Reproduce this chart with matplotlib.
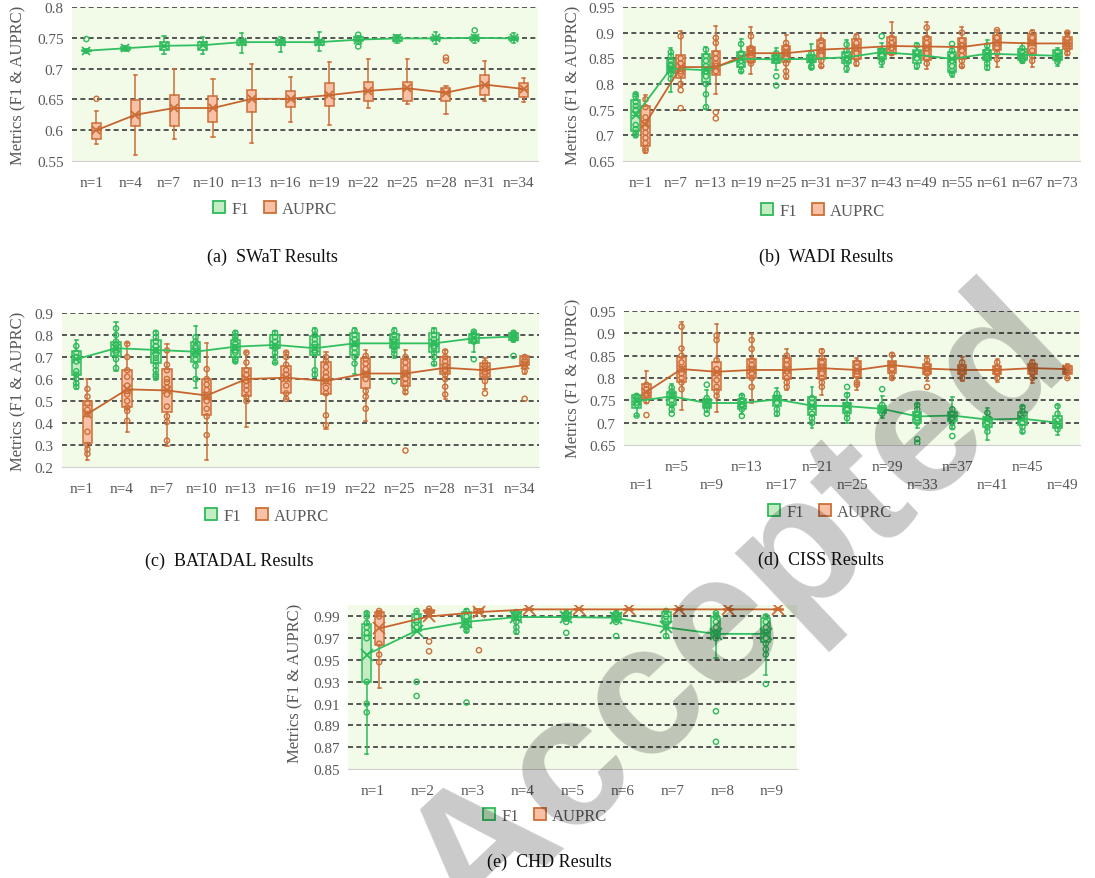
import matplotlib
matplotlib.use('Agg')
import matplotlib.pyplot as plt
from matplotlib.patches import Patch

# ---------------- data ----------------
# box stats: (whisker_low, q1, median, q3, whisker_high)
swat_labels = ['n=1', 'n=4', 'n=7', 'n=10', 'n=13', 'n=16', 'n=19', 'n=22', 'n=25', 'n=28', 'n=31', 'n=34']
swat_f1_box = [(0.726, 0.728, 0.729, 0.731, 0.732), (0.728, 0.731, 0.733, 0.735, 0.737), (0.724, 0.730, 0.737, 0.743, 0.753),
               (0.724, 0.731, 0.738, 0.743, 0.752), (0.725, 0.738, 0.743, 0.747, 0.758), (0.727, 0.739, 0.743, 0.746, 0.752),
               (0.729, 0.738, 0.743, 0.747, 0.759), (0.740, 0.744, 0.747, 0.751, 0.753), (0.742, 0.745, 0.749, 0.752, 0.755),
               (0.740, 0.746, 0.749, 0.752, 0.759), (0.742, 0.747, 0.750, 0.752, 0.755), (0.741, 0.746, 0.749, 0.751, 0.757)]
swat_f1_mean = [0.729, 0.733, 0.737, 0.738, 0.743, 0.743, 0.743, 0.747, 0.749, 0.749, 0.750, 0.749]
swat_f1_pts = [[0.748], [], [], [], [], [], [], [0.755, 0.736], [], [], [0.762], []]
swat_au_box = [(0.578, 0.586, 0.600, 0.611, 0.631), (0.559, 0.607, 0.625, 0.649, 0.689), (0.586, 0.607, 0.636, 0.657, 0.700),
               (0.589, 0.613, 0.636, 0.656, 0.683), (0.579, 0.630, 0.651, 0.666, 0.707), (0.613, 0.637, 0.651, 0.663, 0.686),
               (0.608, 0.639, 0.657, 0.677, 0.711), (0.636, 0.647, 0.664, 0.678, 0.715), (0.642, 0.648, 0.668, 0.678, 0.715),
               (0.627, 0.647, 0.661, 0.668, 0.672), (0.647, 0.657, 0.674, 0.690, 0.713), (0.646, 0.654, 0.667, 0.677, 0.684)]
swat_au_mean = [0.600, 0.625, 0.636, 0.636, 0.651, 0.651, 0.657, 0.664, 0.668, 0.661, 0.674, 0.667]
swat_au_pts = [[0.651], [], [], [], [], [], [], [], [], [0.718, 0.713], [], []]
swat_yticks = [0.55, 0.6, 0.65, 0.7, 0.75, 0.8]
swat_yticklabels = ['0.55', '0.6', '0.65', '0.7', '0.75', '0.8']

wadi_labels = ['n=1', 'n=7', 'n=13', 'n=19', 'n=25', 'n=31', 'n=37', 'n=43', 'n=49', 'n=55', 'n=61', 'n=67', 'n=73']
wadi_f1_box = [(0.697, 0.708, 0.740, 0.768, 0.783), (0.784, 0.822, 0.832, 0.848, 0.871), (0.752, 0.804, 0.828, 0.859, 0.872),
               (0.823, 0.833, 0.848, 0.862, 0.888), (0.828, 0.840, 0.848, 0.857, 0.870), (0.830, 0.842, 0.849, 0.856, 0.877),
               (0.823, 0.840, 0.852, 0.862, 0.885), (0.833, 0.849, 0.860, 0.869, 0.879), (0.830, 0.841, 0.857, 0.866, 0.879),
               (0.814, 0.823, 0.849, 0.862, 0.875), (0.827, 0.846, 0.858, 0.866, 0.885), (0.840, 0.846, 0.857, 0.869, 0.879),
               (0.836, 0.846, 0.855, 0.866, 0.870)]
wadi_f1_mean = [0.739, 0.830, 0.827, 0.849, 0.848, 0.849, 0.852, 0.862, 0.857, 0.849, 0.859, 0.857, 0.855]
wadi_f1_pts = [[0.780, 0.775, 0.765, 0.757, 0.750, 0.720, 0.712, 0.705, 0.700],
               [0.862, 0.855, 0.845, 0.838, 0.835, 0.830, 0.820, 0.810],
               [0.867, 0.855, 0.845, 0.835, 0.825, 0.815, 0.800, 0.780, 0.755],
               [0.878, 0.860, 0.845, 0.835, 0.825],
               [0.860, 0.850, 0.845, 0.815, 0.797],
               [0.860, 0.850, 0.845, 0.835, 0.832],
               [0.877, 0.865, 0.850, 0.840, 0.830],
               [0.893, 0.865, 0.855, 0.848, 0.842],
               [0.875, 0.860, 0.850, 0.835],
               [0.878, 0.865, 0.855, 0.845, 0.835, 0.825, 0.820],
               [0.875, 0.865, 0.855, 0.848, 0.840, 0.832],
               [0.870, 0.862, 0.855, 0.848, 0.845],
               [0.862, 0.855, 0.848, 0.843]]
wadi_au_box = [(0.666, 0.679, 0.720, 0.757, 0.778), (0.794, 0.812, 0.832, 0.856, 0.903), (0.781, 0.818, 0.835, 0.864, 0.913),
               (0.820, 0.843, 0.860, 0.872, 0.911), (0.810, 0.842, 0.860, 0.874, 0.895), (0.833, 0.849, 0.868, 0.885, 0.900),
               (0.836, 0.849, 0.872, 0.887, 0.898), (0.856, 0.859, 0.874, 0.892, 0.921), (0.830, 0.847, 0.875, 0.892, 0.921),
               (0.833, 0.849, 0.870, 0.890, 0.911), (0.833, 0.866, 0.882, 0.895, 0.906), (0.833, 0.859, 0.879, 0.898, 0.906),
               (0.856, 0.869, 0.879, 0.892, 0.901)]
wadi_au_mean = [0.723, 0.833, 0.833, 0.860, 0.860, 0.867, 0.870, 0.874, 0.873, 0.872, 0.881, 0.879, 0.879]
wadi_au_pts = [[0.770, 0.755, 0.735, 0.725, 0.715, 0.705, 0.695, 0.685, 0.675, 0.670],
               [0.893, 0.850, 0.840, 0.830, 0.825, 0.820, 0.800, 0.788, 0.753],
               [0.890, 0.880, 0.860, 0.850, 0.840, 0.835, 0.825, 0.745, 0.733],
               [0.893, 0.870, 0.865, 0.860, 0.855, 0.845, 0.840],
               [0.880, 0.872, 0.860, 0.850, 0.840, 0.825, 0.815],
               [0.885, 0.875, 0.865, 0.855, 0.845, 0.835],
               [0.892, 0.880, 0.870, 0.860, 0.850, 0.840],
               [0.890, 0.880, 0.870, 0.860],
               [0.910, 0.890, 0.880, 0.870, 0.860, 0.850, 0.840],
               [0.900, 0.885, 0.875, 0.865, 0.855, 0.845, 0.835],
               [0.905, 0.890, 0.880, 0.870, 0.860, 0.848],
               [0.900, 0.890, 0.880, 0.865, 0.855, 0.845],
               [0.900, 0.890, 0.880, 0.875, 0.868, 0.860]]
wadi_yticks = [0.65, 0.7, 0.75, 0.8, 0.85, 0.9, 0.95]
wadi_yticklabels = ['0.65', '0.7', '0.75', '0.8', '0.85', '0.9', '0.95']

batadal_labels = swat_labels
batadal_f1_box = [(0.553, 0.617, 0.690, 0.727, 0.778), (0.635, 0.706, 0.740, 0.770, 0.859), (0.594, 0.671, 0.730, 0.778, 0.816),
                  (0.559, 0.678, 0.720, 0.770, 0.839), (0.671, 0.701, 0.745, 0.778, 0.816), (0.671, 0.739, 0.755, 0.800, 0.816),
                  (0.608, 0.709, 0.745, 0.797, 0.831), (0.625, 0.709, 0.760, 0.808, 0.831), (0.694, 0.739, 0.765, 0.804, 0.831),
                  (0.663, 0.724, 0.760, 0.808, 0.831), (0.724, 0.762, 0.785, 0.804, 0.816), (0.770, 0.778, 0.792, 0.811, 0.820)]
batadal_f1_mean = [0.690, 0.740, 0.732, 0.724, 0.747, 0.755, 0.740, 0.762, 0.762, 0.762, 0.785, 0.793]
batadal_f1_pts = [[0.750, 0.720, 0.700, 0.680, 0.635, 0.620, 0.600, 0.580, 0.565],
                  [0.830, 0.800, 0.770, 0.755, 0.740, 0.730, 0.720, 0.690, 0.650],
                  [0.810, 0.790, 0.770, 0.750, 0.730, 0.710, 0.695, 0.680, 0.660, 0.640, 0.620, 0.610],
                  [0.790, 0.770, 0.750, 0.740, 0.720, 0.710, 0.690, 0.660, 0.600],
                  [0.810, 0.795, 0.780, 0.760, 0.745, 0.730, 0.720, 0.690, 0.680],
                  [0.810, 0.790, 0.770, 0.750, 0.740, 0.720, 0.700, 0.675],
                  [0.820, 0.800, 0.780, 0.760, 0.745, 0.730, 0.720, 0.640, 0.620],
                  [0.820, 0.800, 0.780, 0.760, 0.740, 0.720, 0.700, 0.670],
                  [0.820, 0.800, 0.780, 0.770, 0.760, 0.745, 0.730, 0.715, 0.590],
                  [0.820, 0.800, 0.780, 0.765, 0.750, 0.740, 0.720, 0.700, 0.670],
                  [0.815, 0.800, 0.790, 0.780, 0.770, 0.690],
                  [0.810, 0.800, 0.790, 0.785, 0.780, 0.705]]
batadal_au_box = [(0.230, 0.311, 0.480, 0.500, 0.602), (0.357, 0.472, 0.550, 0.640, 0.765), (0.296, 0.449, 0.550, 0.645, 0.758),
                  (0.232, 0.437, 0.520, 0.602, 0.762), (0.380, 0.525, 0.600, 0.651, 0.724), (0.507, 0.538, 0.610, 0.658, 0.724),
                  (0.373, 0.530, 0.600, 0.678, 0.724), (0.411, 0.559, 0.630, 0.694, 0.732), (0.533, 0.568, 0.625, 0.690, 0.732),
                  (0.510, 0.625, 0.650, 0.701, 0.732), (0.556, 0.609, 0.640, 0.675, 0.697), (0.625, 0.663, 0.670, 0.704, 0.706)]
batadal_au_mean = [0.441, 0.553, 0.548, 0.525, 0.600, 0.606, 0.591, 0.625, 0.625, 0.651, 0.640, 0.663]
batadal_au_pts = [[0.555, 0.520, 0.490, 0.460, 0.440, 0.360, 0.300, 0.280, 0.260],
                  [0.760, 0.700, 0.640, 0.610, 0.570, 0.545, 0.530, 0.500, 0.470, 0.455, 0.410],
                  [0.730, 0.665, 0.640, 0.600, 0.585, 0.560, 0.530, 0.475, 0.430, 0.405, 0.320],
                  [0.645, 0.600, 0.575, 0.550, 0.520, 0.500, 0.465, 0.430, 0.345],
                  [0.720, 0.675, 0.640, 0.620, 0.590, 0.570, 0.550, 0.520, 0.500],
                  [0.720, 0.700, 0.665, 0.640, 0.620, 0.600, 0.570, 0.535, 0.510],
                  [0.700, 0.680, 0.655, 0.630, 0.610, 0.590, 0.560, 0.535, 0.435, 0.390],
                  [0.705, 0.690, 0.670, 0.645, 0.620, 0.600, 0.545, 0.520, 0.465],
                  [0.700, 0.675, 0.650, 0.625, 0.600, 0.580, 0.560, 0.540, 0.275],
                  [0.725, 0.700, 0.680, 0.660, 0.640, 0.620, 0.600, 0.565, 0.530],
                  [0.675, 0.660, 0.645, 0.630, 0.610, 0.590, 0.535],
                  [0.700, 0.685, 0.670, 0.655, 0.635, 0.510]]
batadal_yticks = [0.2, 0.3, 0.4, 0.5, 0.6, 0.7, 0.8, 0.9]
batadal_yticklabels = ['0.2', '0.3', '0.4', '0.5', '0.6', '0.7', '0.8', '0.9']

ciss_labels = ['n=1', 'n=5', 'n=9', 'n=13', 'n=17', 'n=21', 'n=25', 'n=29', 'n=33', 'n=37', 'n=41', 'n=45', 'n=49']
ciss_f1_box = [(0.716, 0.733, 0.748, 0.761, 0.765), (0.725, 0.740, 0.758, 0.769, 0.786), (0.725, 0.733, 0.744, 0.752, 0.773),
               (0.720, 0.731, 0.744, 0.752, 0.763), (0.714, 0.737, 0.750, 0.759, 0.778), (0.688, 0.718, 0.738, 0.758, 0.780),
               (0.699, 0.722, 0.737, 0.744, 0.767), (0.710, 0.722, 0.731, 0.737, 0.759), (0.688, 0.699, 0.714, 0.725, 0.742),
               (0.686, 0.703, 0.716, 0.725, 0.757), (0.661, 0.691, 0.707, 0.710, 0.733), (0.676, 0.695, 0.709, 0.725, 0.737),
               (0.673, 0.688, 0.700, 0.714, 0.740)]
ciss_f1_mean = [0.748, 0.759, 0.744, 0.744, 0.752, 0.738, 0.737, 0.731, 0.714, 0.716, 0.707, 0.709, 0.700]
ciss_f1_pts = [[0.760, 0.752, 0.745, 0.740, 0.716],
               [0.778, 0.770, 0.760, 0.750, 0.740, 0.730, 0.720],
               [0.785, 0.755, 0.745, 0.740, 0.730, 0.720],
               [0.760, 0.750, 0.740, 0.730, 0.715],
               [0.765, 0.755, 0.745, 0.730, 0.720],
               [0.755, 0.745, 0.735, 0.720, 0.710, 0.700],
               [0.780, 0.762, 0.740, 0.730, 0.720, 0.710],
               [0.775, 0.740, 0.730, 0.720],
               [0.740, 0.730, 0.720, 0.710, 0.700, 0.663, 0.655],
               [0.730, 0.720, 0.710, 0.700, 0.690, 0.670],
               [0.722, 0.710, 0.700, 0.690, 0.680],
               [0.735, 0.725, 0.710, 0.700, 0.690, 0.680],
               [0.737, 0.720, 0.705, 0.695, 0.685]]
ciss_au_box = [(0.745, 0.756, 0.768, 0.786, 0.816), (0.729, 0.790, 0.815, 0.846, 0.925), (0.725, 0.773, 0.812, 0.835, 0.921),
               (0.744, 0.800, 0.820, 0.842, 0.899), (0.774, 0.797, 0.818, 0.844, 0.865), (0.763, 0.797, 0.822, 0.842, 0.865),
               (0.773, 0.802, 0.818, 0.838, 0.844), (0.797, 0.812, 0.829, 0.838, 0.857), (0.793, 0.808, 0.821, 0.831, 0.850),
               (0.793, 0.808, 0.818, 0.829, 0.846), (0.790, 0.808, 0.818, 0.827, 0.842), (0.788, 0.808, 0.822, 0.831, 0.840),
               (0.801, 0.810, 0.820, 0.827, 0.831)]
ciss_au_mean = [0.769, 0.820, 0.814, 0.818, 0.818, 0.822, 0.818, 0.829, 0.821, 0.818, 0.818, 0.822, 0.820]
ciss_au_pts = [[0.785, 0.775, 0.765, 0.760, 0.748, 0.717],
               [0.915, 0.866, 0.850, 0.835, 0.820, 0.810, 0.800, 0.790, 0.775],
               [0.895, 0.885, 0.840, 0.820, 0.810, 0.795, 0.780, 0.770, 0.760],
               [0.885, 0.865, 0.840, 0.830, 0.820, 0.810, 0.800, 0.780],
               [0.850, 0.840, 0.830, 0.815, 0.800, 0.790, 0.780],
               [0.860, 0.845, 0.835, 0.825, 0.810, 0.800, 0.790, 0.780],
               [0.835, 0.825, 0.815, 0.805, 0.790, 0.785],
               [0.852, 0.830, 0.820, 0.810, 0.800],
               [0.840, 0.830, 0.820, 0.810, 0.780],
               [0.835, 0.820, 0.810, 0.800],
               [0.835, 0.825, 0.815, 0.810, 0.800],
               [0.835, 0.828, 0.820, 0.810, 0.800],
               [0.825, 0.818, 0.812, 0.800]]
ciss_yticks = wadi_yticks
ciss_yticklabels = wadi_yticklabels

chd_labels = ['n=1', 'n=2', 'n=3', 'n=4', 'n=5', 'n=6', 'n=7', 'n=8', 'n=9']
chd_f1_box = [(0.864, 0.930, 0.973, 0.9835, 0.994), (0.976, 0.977, 0.985, 0.992, 0.995), (0.9755, 0.980, 0.986, 0.994, 0.9965),
              (0.974, 0.9863, 0.990, 0.994, 0.9956), (0.986, 0.9872, 0.990, 0.9934, 0.995), (0.985, 0.9863, 0.990, 0.9934, 0.995),
              (0.970, 0.9847, 0.990, 0.994, 0.9946), (0.952, 0.9723, 0.977, 0.9894, 0.9934), (0.936, 0.9662, 0.976, 0.9885, 0.9915)]
chd_f1_mean = [0.955, 0.977, 0.985, 0.9894, 0.9894, 0.9888, 0.980, 0.974, 0.974]
chd_f1_pts = [[0.993, 0.990, 0.984, 0.980, 0.975, 0.970, 0.930, 0.910, 0.902],
              [0.995, 0.990, 0.985, 0.980, 0.930, 0.917],
              [0.995, 0.990, 0.985, 0.980, 0.977, 0.911],
              [0.994, 0.990, 0.985, 0.980, 0.976],
              [0.993, 0.990, 0.985, 0.975],
              [0.993, 0.990, 0.985, 0.972],
              [0.995, 0.990, 0.985, 0.980, 0.972],
              [0.993, 0.990, 0.985, 0.980, 0.975, 0.970, 0.903, 0.875],
              [0.990, 0.985, 0.980, 0.975, 0.970, 0.965, 0.960, 0.955, 0.928]]
chd_au_box = [(0.924, 0.964, 0.990, 0.9937, 0.995), (0.992, 0.993, 0.995, 0.996, 0.997), (0.993, 0.9934, 0.995, 0.9965, 0.997),
              (0.9955, 0.996, 0.9965, 0.997, 0.9975), (0.9955, 0.996, 0.9965, 0.997, 0.9975), (0.9955, 0.996, 0.9965, 0.997, 0.9975),
              (0.9955, 0.996, 0.9965, 0.997, 0.9975), (0.9955, 0.996, 0.9965, 0.997, 0.9975), (0.9955, 0.996, 0.9965, 0.997, 0.9975)]
chd_au_mean = [0.979, 0.990, 0.994, 0.9965, 0.9965, 0.9965, 0.9965, 0.9965, 0.9965]
chd_au_pts = [[0.995, 0.993, 0.990, 0.965, 0.955, 0.948], [0.997, 0.995, 0.993, 0.967, 0.958], [0.959], [], [], [], [], [], []]
chd_yticks = [0.85, 0.87, 0.89, 0.91, 0.93, 0.95, 0.97, 0.99]
chd_yticklabels = ['0.85', '0.87', '0.89', '0.91', '0.93', '0.95', '0.97', '0.99']

series_names = ['F1', 'AUPRC']
captions = ['(a)  SWaT Results', '(b)  WADI Results', '(c)  BATADAL Results', '(d)  CISS Results', '(e)  CHD Results']
ylabel_text = 'Metrics (F1 & AUPRC)'
watermark_text = 'Accepted'

# ---------------- style ----------------
W, H = 1095, 879
plt.rcParams['font.family'] = ['Liberation Serif', 'DejaVu Serif']
BG = '#f2fae8'
TXT = '#595959'
F1_EDGE, F1_FACE, F1_LINE = '#2dba5a', '#c4edc4', '#30c060'
AU_EDGE, AU_FACE, AU_LINE = '#cc6e38', '#f8c1a6', '#c8642e'

fig = plt.figure(figsize=(W / 100, H / 100), dpi=100)


def px_rect(x0, y0, x1, y1):
    return [x0 / W, 1 - y1 / H, (x1 - x0) / W, (y1 - y0) / H]


def draw_series(ax, boxes, means, pts, offset, width, edge, face, line, msize):
    pos = [i + offset for i in range(len(boxes))]
    stats = [dict(whislo=b[0], q1=b[1], med=b[2], q3=b[3], whishi=b[4], mean=m, fliers=[])
             for b, m in zip(boxes, means)]
    ax.bxp(stats, positions=pos, widths=width, patch_artist=True, showmeans=False,
           showfliers=False, capwidths=width * 0.35,
           boxprops=dict(facecolor=face, edgecolor=edge, linewidth=1.1),
           whiskerprops=dict(color=edge, linewidth=1.1),
           capprops=dict(color=edge, linewidth=1.1),
           medianprops=dict(color=edge, linewidth=1.0), manage_ticks=False, zorder=3)
    xs, ys = [], []
    for p, vals in zip(pos, pts):
        xs += [p] * len(vals)
        ys += list(vals)
    if xs:
        ax.scatter(xs, ys, s=14, facecolors='none', edgecolors=edge, linewidths=1.0, zorder=4)
    ax.plot(pos, means, color=line, lw=1.3, zorder=5)
    ax.plot(pos, means, ls='none', marker='x', ms=msize, mew=1.3, color=edge, zorder=6)


def panel(rect, labels, f1, au, yticks, yticklabels, ylim, width=0.24, off=0.14, msize=6, stagger=False):
    ax = fig.add_axes(px_rect(*rect))
    ax.set_facecolor(BG)
    for s in ['left', 'right', 'top']:
        ax.spines[s].set_visible(False)
    ax.spines['bottom'].set_color('#d0d0d0')
    for t in yticks[1:]:
        ax.axhline(t, color='#3a3a3a', lw=1.2, ls=(0, (3, 2)), zorder=1)
    draw_series(ax, *f1, -off, width, F1_EDGE, F1_FACE, F1_LINE, msize)
    draw_series(ax, *au, off, width, AU_EDGE, AU_FACE, AU_LINE, msize)
    ax.set_xlim(-0.5, len(labels) - 0.5)
    ax.set_ylim(*ylim)
    ax.set_yticks(yticks)
    ax.set_yticklabels(yticklabels)
    ax.set_xticks(range(len(labels)))
    if stagger:
        ax.set_xticklabels([('\n' + l) if i % 2 == 0 else l for i, l in enumerate(labels)], linespacing=1.5)
    else:
        ax.set_xticklabels(labels)
    ax.tick_params(axis='both', length=0, labelsize=11, labelcolor=TXT)
    ax.tick_params(axis='x', pad=11)
    ax.tick_params(axis='y', pad=6)
    return ax


def legend(cx, cy):
    handles = [Patch(facecolor=F1_FACE, edgecolor=F1_EDGE, linewidth=1.3, label=series_names[0]),
               Patch(facecolor=AU_FACE, edgecolor=AU_EDGE, linewidth=1.3, label=series_names[1])]
    fig.legend(handles=handles, loc='center', bbox_to_anchor=(cx / W, 1 - cy / H), ncol=2, frameon=False,
               handlelength=0.75, handleheight=0.75, handletextpad=0.35, columnspacing=0.9,
               fontsize=12, labelcolor=TXT)


def ylabel(x, y):
    fig.text(x / W, 1 - y / H, ylabel_text, rotation=90, ha='center', va='center', fontsize=12, color=TXT)


def caption(x, y, s):
    fig.text(x / W, 1 - y / H, s, ha='center', va='center', fontsize=13, color='#111111')


panel((72, 8, 538, 162), swat_labels, (swat_f1_box, swat_f1_mean, swat_f1_pts),
      (swat_au_box, swat_au_mean, swat_au_pts), swat_yticks, swat_yticklabels, (0.55, 0.8), off=0.13, width=0.23)
panel((623, 8, 1080, 162), wadi_labels, (wadi_f1_box, wadi_f1_mean, wadi_f1_pts),
      (wadi_au_box, wadi_au_mean, wadi_au_pts), wadi_yticks, wadi_yticklabels, (0.65, 0.95))
panel((62, 314, 539, 468), batadal_labels, (batadal_f1_box, batadal_f1_mean, batadal_f1_pts),
      (batadal_au_box, batadal_au_mean, batadal_au_pts), batadal_yticks, batadal_yticklabels, (0.2, 0.9))
panel((624, 312, 1080, 446), ciss_labels, (ciss_f1_box, ciss_f1_mean, ciss_f1_pts),
      (ciss_au_box, ciss_au_mean, ciss_au_pts), ciss_yticks, ciss_yticklabels, (0.65, 0.95), stagger=True)
panel((348, 606, 797, 770), chd_labels, (chd_f1_box, chd_f1_mean, chd_f1_pts),
      (chd_au_box, chd_au_mean, chd_au_pts), chd_yticks, chd_yticklabels, (0.85, 1.0005),
      width=0.18, off=0.125, msize=9)

for (lx, ly) in [(18, 85), (573, 85), (18, 391), (573, 378), (295, 683)]:
    ylabel(lx, ly)
for (cx, cy) in [(275, 210), (823, 212), (267, 517), (830, 513), (545, 817)]:
    legend(cx, cy)
for (cx, cy), s in zip([(272, 257), (826, 257), (229, 561), (821, 560), (549, 862)], captions):
    caption(cx, cy, s)

# watermark
fig.text(741 / W, 1 - 612 / H, watermark_text, rotation=43.4, rotation_mode='anchor', ha='center', va='center',
         fontsize=134, family='Liberation Sans', weight='bold', color='black', alpha=0.21, zorder=20)

fig.savefig('out.png', dpi=100)
